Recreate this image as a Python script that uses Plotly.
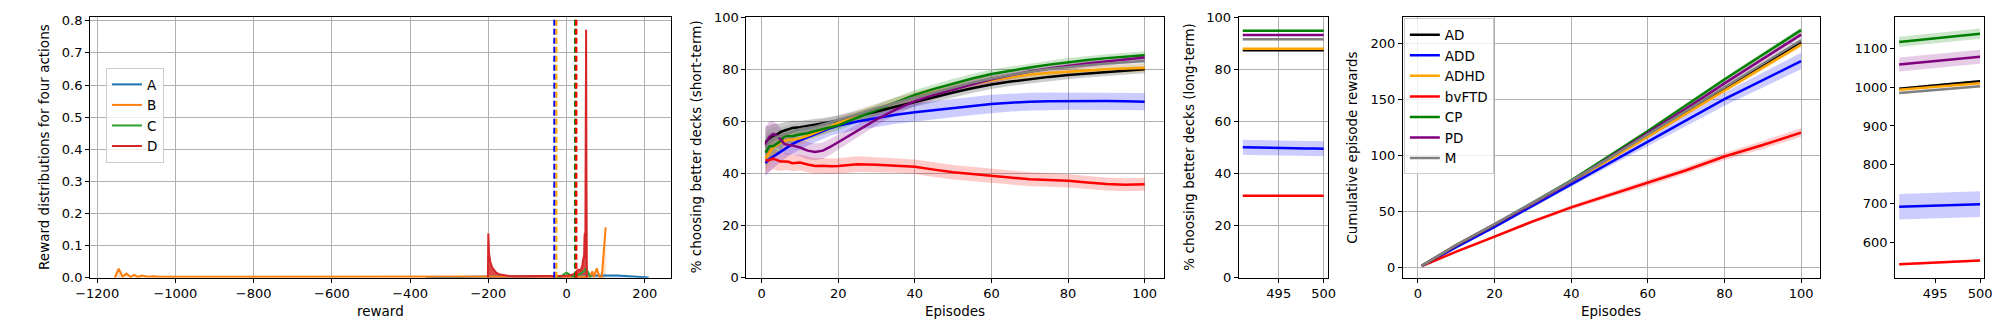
import plotly.graph_objects as go

# ---- panel 1: reward distributions of the four decks ----
A_X = [-360, -300, -250, -200, -150, -100, -50, 0, 50, 100, 130, 150, 180, 200, 210]
A_Y = [0.0, 0.002, 0.003, 0.004, 0.004, 0.005, 0.005, 0.005, 0.006, 0.007, 0.007, 0.006, 0.004, 0.002, 0.001]

B_X = [-1155, -1145, -1135, -1125, -1115, -1105, -1095, -1085, -1070, -1055, -1040, -1000, -900, -700,
       -500, -300, -100, 0, 50, 60, 66, 70, 77, 85, 90, 100]
B_Y = [0.0, 0.028, 0.004, 0.013, 0.003, 0.009, 0.003, 0.007, 0.003, 0.005, 0.003, 0.003, 0.002, 0.002,
       0.002, 0.002, 0.002, 0.003, 0.003, 0.004, 0.02, 0.002, 0.029, 0.001, 0.0, 0.157]

C_X = [-25, -15, -5, 0, 5, 15, 25, 35, 45, 50, 55, 62]
C_Y = [0.0, 0.004, 0.012, 0.016, 0.012, 0.004, 0.006, 0.012, 0.02, 0.03, 0.015, 0.0]

D_X = [-201, -200, -198, -195, -190, -185, -180, -170, -160, -150, -130, -100, -50, 0, 10, 20, 25, 30,
       35, 40, 43, 45, 46, 47, 48, 49, 50, 51, 52]
D_Y = [0.0, 0.138, 0.075, 0.05, 0.032, 0.022, 0.016, 0.01, 0.008, 0.006, 0.005, 0.005, 0.005, 0.006,
       0.008, 0.012, 0.02, 0.025, 0.022, 0.035, 0.06, 0.07, 0.13, 0.14, 0.06, 0.25, 0.772, 0.3, 0.0]

MEAN_X = [-31, -26, 22, 25]
MEAN_COLORS = ["blue", "orange", "green", "red"]

# ---- groups ----
GROUPS = ["AD", "ADD", "ADHD", "bvFTD", "CP", "PD", "M"]
COLORS = {"AD": "black", "ADD": "blue", "ADHD": "orange", "bvFTD": "red",
          "CP": "green", "PD": "purple", "M": "gray"}
RGB = {"AD": "0,0,0", "ADD": "0,0,255", "ADHD": "255,165,0", "bvFTD": "255,0,0",
       "CP": "0,128,0", "PD": "128,0,128", "M": "128,128,128"}

# ---- panel 2: % better decks, short-term ----
EP_SHORT = [1, 2, 3, 4, 5, 6, 7, 8, 10, 12, 14, 16, 18, 20, 25, 30, 35, 40, 45, 50,
            55, 60, 65, 70, 75, 80, 85, 90, 95, 100]
SHORT_MEAN = {
    "AD": [52, 53.5, 54.5, 55, 56, 56.5, 57, 57.5, 57.8, 58.3, 58.6, 59.2, 59.8, 60.3, 62, 63.8, 65.8, 67.6,
           69.4, 71.1, 72.7, 74.2, 75.3, 76.3, 77.1, 77.8, 78.4, 79, 79.5, 80],
    "ADD": [44, 45.5, 46.5, 47.5, 48.5, 49.5, 50.5, 51.3, 52.7, 54, 55.2, 56.3, 57.5, 58.3, 60, 61.3, 62.6,
            63.5, 64.3, 65.1, 66, 66.7, 67.2, 67.6, 67.7, 67.8, 67.8, 67.8, 67.7, 67.6],
    "ADHD": [46, 48, 50, 51, 52, 52.5, 53, 53, 53.5, 54.5, 55.5, 56.8, 58, 59.5, 62, 64.8, 67.2, 69.4, 71.2,
             72.9, 74.4, 75.8, 77, 78, 78.6, 79.1, 79.6, 80, 80.3, 80.5],
    "bvFTD": [45, 45.2, 45.7, 45, 44.6, 44.6, 44.5, 44, 44.2, 43.5, 42.9, 43, 42.8, 42.9, 43.6, 43.4, 43.1,
              42.6, 41.5, 40.5, 39.8, 39.2, 38.5, 37.8, 37.5, 37.2, 36.6, 36, 35.7, 35.9],
    "CP": [48, 50.5, 50.5, 51.5, 52.5, 54.5, 54.5, 54.3, 55, 55.5, 56.3, 57, 57.8, 58.5, 61.5, 64.5, 67.3,
           70.2, 72.5, 74.6, 76.5, 78.2, 79.5, 80.7, 81.8, 82.8, 83.6, 84.3, 84.9, 85.4],
    "PD": [51, 54, 55.2, 54.6, 53, 51.3, 51, 50.8, 50, 48.8, 48.3, 48.8, 50.3, 52, 56.3, 60.8, 64.5, 67.8,
           70.2, 72.3, 74.3, 76.2, 77.8, 79.2, 80.3, 81.3, 82.2, 83, 83.8, 84.5],
    "M": [50, 52, 53, 54, 54.5, 55, 55.5, 56, 57, 57.5, 58, 58.8, 59.6, 60.4, 62.6, 65, 67.2, 69.2, 71.1, 73,
          74.9, 76.5, 77.9, 79.1, 80.1, 80.9, 81.6, 82.2, 82.7, 83.2],
}
SHORT_SD = {
    "AD": [6, 5, 4.5, 4, 3.5, 3.2, 3, 2.8, 2.5, 2.3, 2.2, 2.1, 2, 2, 2, 2, 2, 2, 2, 1.9, 1.8, 1.8, 1.7,
           1.7, 1.6, 1.6, 1.5, 1.5, 1.5, 1.5],
    "ADD": [5, 4.8, 4.5, 4.3, 4, 3.9, 3.8, 3.7, 3.5, 3.3, 3.1, 3, 3, 3, 3.2, 3.4, 3.5, 3.5, 3.5, 3.5, 3.5,
            3.5, 3.4, 3.4, 3.4, 3.3, 3.3, 3.3, 3.3, 3.3],
    "ADHD": [6, 5, 4.5, 4, 3.5, 3.2, 3, 2.8, 2.5, 2.3, 2.2, 2.1, 2, 2, 2, 2, 2, 1.9, 1.8, 1.8, 1.7, 1.7,
             1.6, 1.6, 1.5, 1.5, 1.5, 1.5, 1.5, 1.5],
    "bvFTD": [5, 4.5, 4, 3.8, 3.5, 3.3, 3.2, 3.1, 3, 3, 3, 3, 3, 3, 3, 2.9, 2.8, 2.8, 2.8, 2.8, 2.8, 2.8,
              2.7, 2.7, 2.6, 2.6, 2.5, 2.5, 2.5, 2.5],
    "CP": [6, 5, 4.5, 4, 3.5, 3.2, 3, 2.8, 2.5, 2.3, 2.2, 2.1, 2, 2, 2, 2, 2, 1.9, 1.8, 1.8, 1.7, 1.7,
           1.6, 1.6, 1.5, 1.5, 1.5, 1.5, 1.5, 1.5],
    "PD": [7, 6, 5, 4.5, 4.2, 4, 3.8, 3.6, 3.4, 3.3, 3.2, 3.1, 3, 3, 2.6, 2.3, 2, 1.9, 1.8, 1.8, 1.7, 1.7,
           1.6, 1.6, 1.5, 1.5, 1.5, 1.5, 1.5, 1.5],
    "M": [6, 5, 4.5, 4, 3.5, 3.2, 3, 2.8, 2.5, 2.3, 2.2, 2.1, 2, 2, 2, 2, 2, 1.9, 1.8, 1.8, 1.7, 1.7,
          1.6, 1.6, 1.5, 1.5, 1.5, 1.5, 1.5, 1.5],
}

# ---- panel 3: % better decks, long-term ----
EP_LONG = [491, 492, 493, 494, 495, 496, 497, 498, 499, 500]
LONG_MEAN = {
    "AD": [87.3, 87.3, 87.3, 87.3, 87.3, 87.3, 87.3, 87.3, 87.3, 87.3],
    "ADD": [50.1, 50.0, 49.9, 49.9, 49.8, 49.8, 49.7, 49.6, 49.6, 49.5],
    "ADHD": [87.9, 87.9, 87.9, 87.9, 87.9, 87.9, 87.9, 87.9, 87.9, 87.9],
    "bvFTD": [31.5, 31.5, 31.5, 31.5, 31.5, 31.5, 31.5, 31.5, 31.5, 31.5],
    "CP": [94.8, 94.8, 94.8, 94.8, 94.8, 94.8, 94.8, 94.8, 94.8, 94.8],
    "PD": [93.2, 93.2, 93.2, 93.2, 93.2, 93.2, 93.2, 93.2, 93.2, 93.2],
    "M": [91.5, 91.5, 91.5, 91.5, 91.5, 91.5, 91.5, 91.5, 91.5, 91.5],
}
LONG_SD = {"AD": 0.4, "ADD": 2.9, "ADHD": 0.4, "bvFTD": 0.3, "CP": 0.4, "PD": 0.4, "M": 0.4}

# ---- panel 4: cumulative rewards, episodes 1-100 ----
EP_CUM = [1, 10, 20, 30, 40, 50, 60, 70, 80, 90, 100]
CUM_MEAN = {
    "AD": [1.8, 20.3, 38.8, 57.5, 77, 97, 117.5, 138, 159, 180, 201],
    "ADD": [1.5, 18.5, 36.5, 55.5, 75.2, 94, 113, 131.5, 150.4, 167.5, 184.4],
    "ADHD": [1.8, 20.3, 38.8, 57.5, 77, 96.5, 117, 137.5, 158, 178.5, 199],
    "bvFTD": [1.5, 14.5, 27.8, 41.5, 53.9, 65, 75.5, 87, 99.3, 109.5, 120.6],
    "CP": [1.8, 20, 38.5, 58, 78, 100, 122, 145, 168, 190, 212],
    "PD": [1.8, 20, 38.5, 57.5, 77, 98.5, 120, 142, 164.5, 186, 208],
    "M": [1.8, 20.5, 39, 58, 77.5, 98, 119, 140, 161, 182, 203],
}
CUM_SD = {
    "AD": [0.3, 0.6, 0.8, 1, 1.2, 1.4, 1.6, 1.8, 2, 2.2, 2.4],
    "ADD": [0.3, 1, 1.6, 2.2, 2.8, 3.5, 4.2, 5, 5.8, 6.6, 7.4],
    "ADHD": [0.3, 0.6, 0.8, 1, 1.2, 1.4, 1.6, 1.8, 2, 2.2, 2.4],
    "bvFTD": [0.3, 0.8, 1.2, 1.6, 2, 2.3, 2.6, 2.9, 3.2, 3.5, 3.8],
    "CP": [0.3, 0.6, 0.8, 1, 1.2, 1.4, 1.6, 1.8, 2, 2.2, 2.4],
    "PD": [0.3, 0.6, 0.8, 1, 1.2, 1.4, 1.6, 1.8, 2, 2.2, 2.4],
    "M": [0.3, 0.6, 0.8, 1, 1.2, 1.4, 1.6, 1.8, 2, 2.2, 2.4],
}

# ---- panel 5: cumulative rewards, episodes 491-500 ----
CUM_LONG_MEAN = {
    "AD": [996, 998.1, 1000.2, 1002.3, 1004.4, 1006.6, 1008.7, 1010.8, 1012.9, 1015],
    "ADD": [692, 692.7, 693.4, 694.2, 694.9, 695.6, 696.3, 697.1, 697.8, 698.5],
    "ADHD": [993.5, 995.3, 997.2, 999, 1000.8, 1002.7, 1004.5, 1006.3, 1008.2, 1010],
    "bvFTD": [543.5, 544.6, 545.7, 546.8, 547.9, 548.9, 550, 551.1, 552.2, 553.3],
    "CP": [1116.4, 1118.8, 1121.1, 1123.5, 1125.9, 1128.2, 1130.6, 1133.0, 1135.3, 1137.7],
    "PD": [1058, 1060.2, 1062.4, 1064.7, 1066.9, 1069.1, 1071.3, 1073.6, 1075.8, 1078],
    "M": [985, 986.9, 988.8, 990.7, 992.6, 994.4, 996.3, 998.2, 1000.1, 1002],
}
CUM_LONG_SD = {"AD": 3, "ADD": 33, "ADHD": 3, "bvFTD": 3, "CP": 13, "PD": 18, "M": 3}

FONT = "DejaVu Sans"
W, H = 2000, 329

fig = go.Figure()


def band(x, mean, sd, g, xa, ya):
    sds = sd if isinstance(sd, list) else [sd] * len(mean)
    up = [m + s for m, s in zip(mean, sds)]
    lo = [m - s for m, s in zip(mean, sds)]
    fig.add_trace(go.Scatter(x=x + x[::-1], y=up + lo[::-1], fill="toself", mode="lines",
                             line=dict(width=0), fillcolor="rgba(%s,0.2)" % RGB[g],
                             xaxis=xa, yaxis=ya, showlegend=False, hoverinfo="skip"))


def mean_line(x, mean, g, xa, ya, legend=False):
    fig.add_trace(go.Scatter(x=x, y=mean, mode="lines", name=g, line=dict(color=COLORS[g], width=2.5),
                             xaxis=xa, yaxis=ya, showlegend=legend, legend="legend2"))


# panel 1: filled areas first, outlines with legend on top
DISTS = [("A", A_X, A_Y, "#1f77b4", "rgba(31,119,180,0.25)"),
         ("B", B_X, B_Y, "#ff7f0e", "rgba(255,127,14,0.25)"),
         ("C", C_X, C_Y, "#2ca02c", "rgba(44,160,44,0.25)"),
         ("D", D_X, D_Y, "#d62728", "rgba(214,39,40,0.85)")]
for name, xs, ys, col, fc in DISTS:
    fig.add_trace(go.Scatter(x=xs, y=ys, mode="lines", fill="tozeroy", fillcolor=fc,
                             line=dict(width=0), xaxis="x", yaxis="y", showlegend=False,
                             hoverinfo="skip"))
for name, xs, ys, col, fc in DISTS:
    fig.add_trace(go.Scatter(x=xs, y=ys, mode="lines", name=name,
                             line=dict(color=col, width=2), xaxis="x", yaxis="y",
                             legend="legend"))
for mx, mc in zip(MEAN_X, MEAN_COLORS):
    fig.add_shape(type="line", x0=mx, x1=mx, y0=0, y1=1, xref="x", yref="y domain",
                  line=dict(color=mc, width=2.2, dash="6px,3px"))

# panels 2-5
for g in GROUPS:
    band(EP_SHORT, SHORT_MEAN[g], SHORT_SD[g], g, "x2", "y2")
    band(EP_LONG, LONG_MEAN[g], LONG_SD[g], g, "x3", "y3")
    band(EP_CUM, CUM_MEAN[g], CUM_SD[g], g, "x4", "y4")
    band(EP_LONG, CUM_LONG_MEAN[g], CUM_LONG_SD[g], g, "x5", "y5")
for g in GROUPS:
    mean_line(EP_SHORT, SHORT_MEAN[g], g, "x2", "y2")
    mean_line(EP_LONG, LONG_MEAN[g], g, "x3", "y3")
    mean_line(EP_CUM, CUM_MEAN[g], g, "x4", "y4", legend=True)
    mean_line(EP_LONG, CUM_LONG_MEAN[g], g, "x5", "y5")

ydom = [(H - 283.7) / H, (H - 10.7) / H]
xdoms = [(76, 664), (740, 1162), (1238, 1328), (1404, 1826), (1902, 1992)]
axis_common = dict(showline=True, mirror=True, linecolor="black", linewidth=1, ticks="outside",
                   ticklen=4, tickcolor="black", zeroline=False, gridcolor="#b0b0b0", gridwidth=1,
                   tickfont=dict(family=FONT, size=13, color="black"))
xranges = [[-1218, 268], [-3.95, 104.95], [490.55, 500.45], [-3.95, 104.95], [490.55, 500.45]]
yranges = [[0, 0.811], [0, 100], [0, 100], [-8.85, 223.5], [509, 1180]]
xtick = [dict(tickvals=[-1200, -1000, -800, -600, -400, -200, 0, 200]),
         dict(tickvals=[0, 20, 40, 60, 80, 100]),
         dict(tickvals=[495, 500]),
         dict(tickvals=[0, 20, 40, 60, 80, 100]),
         dict(tickvals=[495, 500])]
ytick = [dict(tickvals=[0, 0.1, 0.2, 0.3, 0.4, 0.5, 0.6, 0.7, 0.8], tickformat=".1f"),
         dict(tickvals=[0, 20, 40, 60, 80, 100]),
         dict(tickvals=[0, 20, 40, 60, 80, 100]),
         dict(tickvals=[0, 50, 100, 150, 200]),
         dict(tickvals=[600, 700, 800, 900, 1000, 1100])]

layout_axes = {}
for i in range(5):
    k = "" if i == 0 else str(i + 1)
    grid = i != 4
    layout_axes["xaxis" + k] = dict(axis_common, domain=[xdoms[i][0] / W, xdoms[i][1] / W],
                                    range=xranges[i], anchor="y" + k, showgrid=grid, **xtick[i])
    layout_axes["yaxis" + k] = dict(axis_common, domain=ydom, range=yranges[i], anchor="x" + k,
                                    showgrid=grid, **ytick[i])

annots = []
for text, px in [("Reward distributions for four actions", 30),
                 ("% choosing better decks (short-term)", 689),
                 ("% choosing better decks (long-term)", 1188),
                 ("Cumulative episode rewards", 1353)]:
    annots.append(dict(text=text, x=px / W, y=(H - 147) / H, xref="paper", yref="paper",
                       textangle=-90, showarrow=False, xanchor="center", yanchor="middle",
                       font=dict(family=FONT, size=13.5, color="black")))
for text, px in [("reward", 370), ("Episodes", 951), ("Episodes", 1615)]:
    annots.append(dict(text=text, x=px / W, y=(H - 319) / H, xref="paper", yref="paper",
                       showarrow=False, xanchor="center", yanchor="middle",
                       font=dict(family=FONT, size=13.5, color="black")))

legend_style = dict(bgcolor="rgba(255,255,255,0.8)", bordercolor="#cccccc", borderwidth=1,
                    font=dict(family=FONT, size=13.5, color="black"), xanchor="left", yanchor="top",
                    tracegroupgap=0)

fig.update_layout(
    width=W, height=H, margin=dict(l=0, r=0, t=0, b=0),
    plot_bgcolor="white", paper_bgcolor="white",
    font=dict(family=FONT, size=13, color="black"),
    annotations=annots,
    legend=dict(legend_style, x=92 / W, y=(H - 64) / H),
    legend2=dict(legend_style, x=1405 / W, y=(H - 12) / H),
    **layout_axes,
)

fig.write_html("out.html", config={"displayModeBar": False},
               post_script="document.body.style.margin='0';document.body.style.overflow='hidden';")
